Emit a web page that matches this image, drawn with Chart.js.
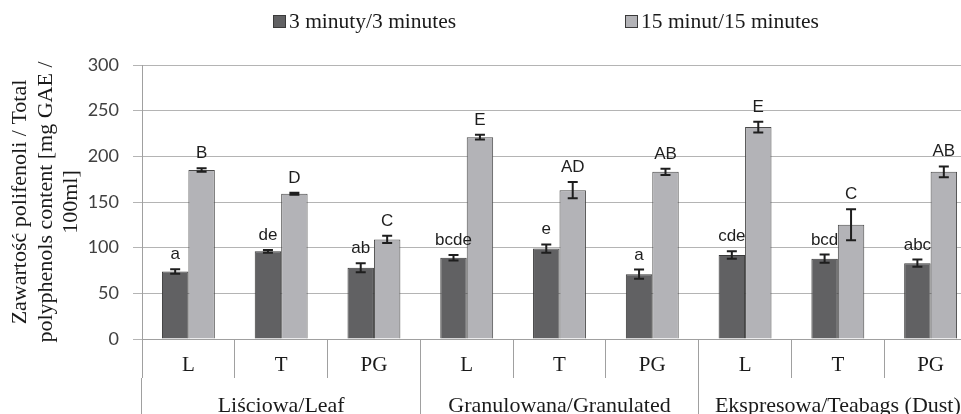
<!DOCTYPE html>
<html>
<head>
<meta charset="utf-8">
<script src="https://cdn.jsdelivr.net/npm/chart.js@4.4.1/dist/chart.umd.min.js"></script>
<style>
  html, body { margin: 0; padding: 0; background: #fff; overflow: hidden; }
  #wrap { width: 978px; height: 414px; position: relative; }
</style>
</head>
<body>
<div id="wrap"><canvas id="chart"></canvas></div>
<script>
const categories = ["L", "T", "PG", "L", "T", "PG", "L", "T", "PG"];
const groups = ["Liściowa/Leaf", "Granulowana/Granulated", "Ekspresowa/Teabags (Dust)"];

const min3 = [74, 96, 78, 89, 99, 71, 92, 88, 83];
const min3Err = [2.5, 1.5, 5, 3, 4.5, 5, 4, 4.5, 4];
const min3Letters = ["a", "de", "ab", "bcde", "e", "a", "cde", "bcd", "abc"];

const min15 = [185, 159, 109, 221, 163, 183, 232, 125, 183];
const min15Err = [2, 1, 4, 2.5, 9, 3.5, 6, 17, 6];
const min15Letters = ["B", "D", "C", "E", "AD", "AB", "E", "C", "AB"];

const yTicks = [0, 50, 100, 150, 200, 250, 300];

const serif = "'Liberation Serif', 'Times New Roman', serif";

// error bars + letters above them
const errorBarsPlugin = {
  id: "errorBars",
  afterDatasetsDraw(chart) {
    const ctx = chart.ctx;
    const y = chart.scales.y;
    chart.data.datasets.forEach((ds, di) => {
      const meta = chart.getDatasetMeta(di);
      meta.data.forEach((bar, i) => {
        const v = ds.data[i];
        const e = ds.errors[i];
        const top = y.getPixelForValue(v + e);
        const bot = y.getPixelForValue(v - e);
        ctx.save();
        ctx.strokeStyle = "#1e1e1e";
        ctx.lineWidth = 2;
        ctx.beginPath();
        ctx.moveTo(bar.x, top);
        ctx.lineTo(bar.x, bot);
        ctx.moveTo(bar.x - 5, top);
        ctx.lineTo(bar.x + 5, top);
        ctx.moveTo(bar.x - 5, bot);
        ctx.lineTo(bar.x + 5, bot);
        ctx.stroke();
        ctx.fillStyle = "#1e1e1e";
        ctx.font = "17px 'Liberation Sans', Arial, sans-serif";
        ctx.textAlign = "center";
        ctx.textBaseline = "alphabetic";
        ctx.fillText(ds.letters[i], bar.x, top - 10);
        ctx.restore();
      });
    });
  }
};

// legend drawn at the top, like the original
const legendPlugin = {
  id: "topLegend",
  afterDraw(chart) {
    const ctx = chart.ctx;
    const spots = [273, 625];
    ctx.save();
    chart.data.datasets.forEach((ds, di) => {
      const x = spots[di];
      ctx.fillStyle = ds.backgroundColor;
      ctx.strokeStyle = "#3a3a3a";
      ctx.lineWidth = 1;
      ctx.fillRect(x, 15, 12, 12);
      ctx.strokeRect(x + 0.5, 15.5, 12, 12);
      ctx.fillStyle = "#1a1a1a";
      ctx.font = "21.5px " + serif;
      ctx.textAlign = "left";
      ctx.textBaseline = "middle";
      ctx.fillText(ds.label, x + 16, 22);
    });
    ctx.restore();
  }
};

new Chart(document.getElementById("chart"), {
  type: "bar",
  data: {
    labels: categories,
    datasets: [
      {
        label: "3 minuty/3 minutes",
        data: min3,
        errors: min3Err,
        letters: min3Letters,
        backgroundColor: "#616163",
        borderColor: "#3a3a3a",
        borderWidth: 1,
        categoryPercentage: 0.57,
        barPercentage: 1.0
      },
      {
        label: "15 minut/15 minutes",
        data: min15,
        errors: min15Err,
        letters: min15Letters,
        backgroundColor: "#b3b3b7",
        borderColor: "#4a4a4a",
        borderWidth: 1,
        categoryPercentage: 0.57,
        barPercentage: 1.0
      }
    ]
  },
  options: {
    responsive: true,
    maintainAspectRatio: false,
    animation: false,
    layout: { padding: { top: 65, right: 1, left: 0, bottom: 0 } },
    plugins: {
      legend: { display: false },
      tooltip: { enabled: false }
    },
    scales: {
      x: {
        type: "category",
        offset: true,
        grid: {
          offset: true,
          drawOnChartArea: false,
          tickLength: 39,
          color: "#a0a0a0",
          lineWidth: 1
        },
        border: { display: true, color: "#a0a0a0" },
        ticks: {
          padding: -25,
          color: "#1a1a1a",
          font: { family: serif, size: 21 },
          maxRotation: 0,
          autoSkip: false
        },
        afterFit(scale) { scale.height = 39; }
      },
      x2: {
        type: "category",
        position: "bottom",
        labels: groups,
        offset: true,
        grid: {
          offset: true,
          drawOnChartArea: false,
          tickLength: 36,
          color: "#a0a0a0",
          lineWidth: 1
        },
        border: { display: false },
        ticks: {
          padding: -21,
          color: "#1a1a1a",
          font: { family: serif, size: 22 },
          maxRotation: 0,
          autoSkip: false
        },
        afterFit(scale) { scale.height = 36; }
      },
      y: {
        min: 0,
        max: 300,
        afterBuildTicks(scale) { scale.ticks = yTicks.map(v => ({ value: v })); },
        grid: {
          color: "#b4b4b4",
          lineWidth: 1,
          tickLength: 9
        },
        border: { display: true, color: "#a0a0a0" },
        ticks: {
          padding: 14,
          color: "#404040",
          font: { family: "Lato, 'Open Sans', sans-serif", size: 18 }
        },
        title: {
          display: true,
          text: ["Zawartość polifenoli / Total", "polyphenols content [mg GAE /", "100ml]"],
          color: "#1a1a1a",
          font: { family: serif, size: 22, lineHeight: 1.15 },
          padding: { top: 8, bottom: 0 }
        },
        afterFit(scale) { scale.width = 142; }
      }
    }
  },
  plugins: [errorBarsPlugin, legendPlugin]
});
</script>
</body>
</html>
